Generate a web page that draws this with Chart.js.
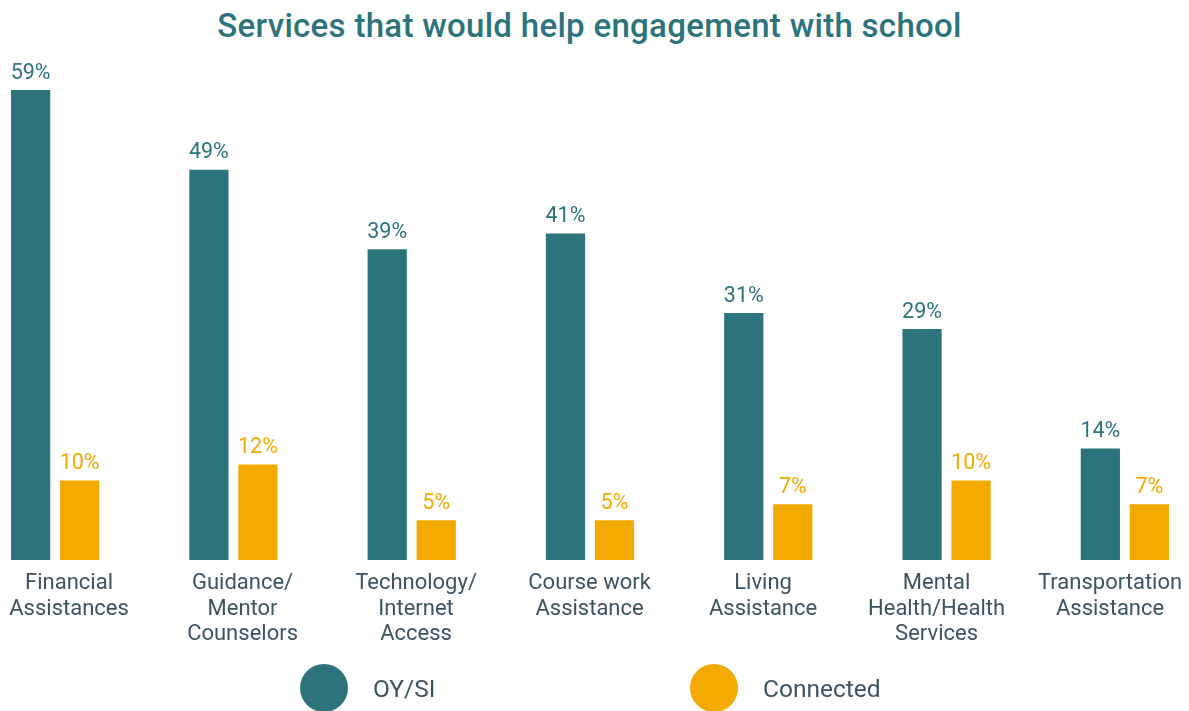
<!DOCTYPE html>
<html>
<head>
<meta charset="utf-8">
<script src="https://cdn.jsdelivr.net/npm/chart.js@4.4.0/dist/chart.umd.min.js"></script>
<style>
  body { margin: 0; background: #fff; overflow: hidden; width: 1189px; height: 711px; position: relative; font-family: Roboto, sans-serif; }
  #title { position: absolute; top: 6px; left: -5px; width: 1189px; text-align: center; font-size: 33px; font-weight: 500; color: #2c737c; letter-spacing: 0.3px; }
  #wrap { position: absolute; left: -34px; top: 0; width: 1248px; height: 666px; }
  #legend { position: absolute; top: 664px; left: 0; width: 1189px; height: 48px; }
  .item { position: absolute; top: 0; display: flex; align-items: center; height: 48px; font-size: 24.5px; color: #3e5360; }
  .dot { width: 48px; height: 48px; border-radius: 50%; margin-right: 25px; }
</style>
</head>
<body>
<div id="title">Services that would help engagement with school</div>
<div id="wrap"><canvas id="servicesChart"></canvas></div>
<div id="legend"></div>
<script>
// categories (multi-line tick labels)
const categories = [
  ['Financial', 'Assistances'],
  ['Guidance/', 'Mentor', 'Counselors'],
  ['Technology/', 'Internet', 'Access'],
  ['Course work', 'Assistance'],
  ['Living', 'Assistance'],
  ['Mental', 'Health/Health', 'Services'],
  ['Transportation', 'Assistance']
];
const seriesNames = ['OY/SI', 'Connected'];
const oySiValues = [59, 49, 39, 41, 31, 29, 14];
const connectedValues = [10, 12, 5, 5, 7, 10, 7];

const teal = '#2c737c';
const gold = '#f2a900';

// value labels above each bar
const valueLabels = {
  id: 'valueLabels',
  afterDatasetsDraw(chart) {
    const ctx = chart.ctx;
    ctx.save();
    ctx.font = '21.5px Roboto';
    ctx.textAlign = 'center';
    ctx.textBaseline = 'bottom';
    chart.data.datasets.forEach((ds, i) => {
      chart.getDatasetMeta(i).data.forEach((bar, j) => {
        ctx.fillStyle = ds.backgroundColor;
        ctx.fillText(ds.data[j] + '%', bar.x, bar.y - 6);
      });
    });
    ctx.restore();
  }
};

const chart = new Chart(document.getElementById('servicesChart'), {
  type: 'bar',
  data: {
    labels: categories,
    datasets: [
      { label: seriesNames[0], data: oySiValues, backgroundColor: teal },
      { label: seriesNames[1], data: connectedValues, backgroundColor: gold }
    ]
  },
  options: {
    responsive: true,
    maintainAspectRatio: false,
    animation: false,
    categoryPercentage: 0.55,
    barPercentage: 0.8,
    layout: { padding: { top: 82, bottom: 8, left: 0, right: 0 } },
    plugins: {
      legend: { display: false },
      tooltip: { enabled: false }
    },
    scales: {
      x: { display: false },
      // label axis: slightly tighter spacing than the bar groups so the outer labels stay in view
      xLabels: {
        type: 'linear',
        position: 'bottom',
        offset: false,
        min: -0.594,
        max: 6.599,
        grid: { display: false, drawTicks: false, offset: false },
        border: { display: false },
        afterBuildTicks: axis => { axis.ticks = categories.map((c, i) => ({ value: i })); },
        ticks: {
          padding: 11,
          color: '#3e5360',
          maxRotation: 0,
          autoSkip: false,
          font: { family: 'Roboto', size: 22, lineHeight: 1.15 },
          callback: v => categories[v]
        }
      },
      y: {
        display: false,
        min: 0,
        max: 60
      }
    }
  },
  plugins: [valueLabels]
});

// legend below the chart
const legend = document.getElementById('legend');
const legendLeft = [300, 690];
chart.data.datasets.forEach((ds, i) => {
  const item = document.createElement('div');
  item.className = 'item';
  item.style.left = legendLeft[i] + 'px';
  item.innerHTML = '<span class="dot" style="background:' + ds.backgroundColor + '"></span>' + ds.label;
  legend.appendChild(item);
});
</script>
</body>
</html>
